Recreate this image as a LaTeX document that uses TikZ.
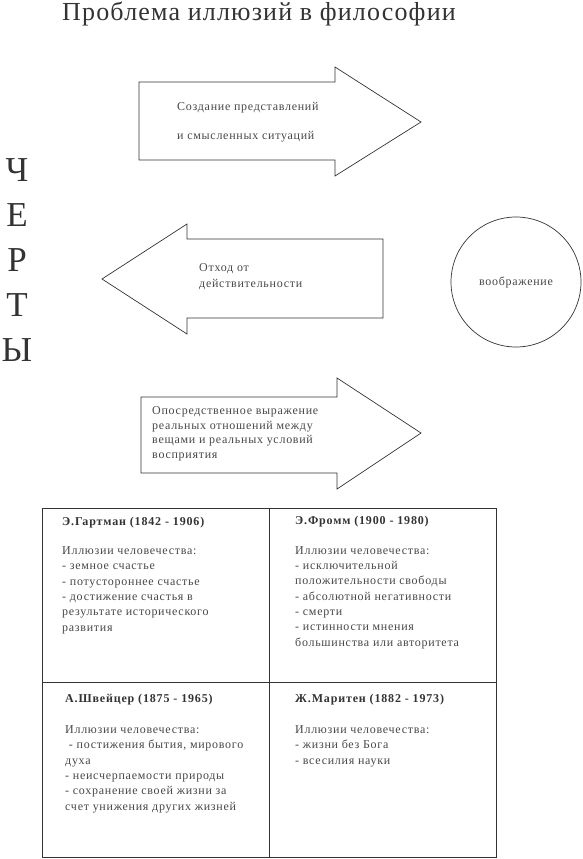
\documentclass[tikz,border=0pt]{standalone}
\usepackage{fontspec}
\setmainfont{Liberation Serif}
\newfontfamily\spacedfont[LetterSpace=6]{Liberation Serif}
\newfontfamily\titlefont[LetterSpace=4.5]{Liberation Serif}
\newfontfamily\headfont[LetterSpace=7]{Liberation Serif}
\usetikzlibrary{positioning}
\definecolor{inkgray}{HTML}{333333}
\definecolor{textgray}{HTML}{474747}
\tikzset{
  arrowshape/.style={draw=inkgray,line width=0.7pt,line join=miter},
  frame/.style={draw=inkgray,line width=0.9pt},
  smalltext/.style={inner sep=0pt,text=textgray,align=left,
    font=\spacedfont\fontsize{12}{15.3}\selectfont},
  headtext/.style={smalltext,text=inkgray,font=\headfont\bfseries\fontsize{12}{15.3}\selectfont},
  bigletter/.style={inner sep=0pt,text=inkgray,font=\fontsize{35}{40}\selectfont}
}

\begin{document}
\begin{tikzpicture}[x=1pt,y=-1pt]
  \useasboundingbox (0,0) rectangle (582,859);

  % title
  \node[inner sep=0pt,text=inkgray,font=\titlefont\fontsize{26}{30}\selectfont,anchor=base] (title) at (259,21) {Проблема иллюзий в философии};

  % vertical word
  \foreach \ch [count=\i] in {Ч,Е,Р,Т,Ы}
    \node[bigletter,anchor=base] (trait\i) at (17,{181+45*(\i-1)}) {\ch};

  % arrows (base anchor of a multi-line node = its last line)
  \draw[arrowshape] (139,82) -- (335,82) -- (335,67) -- (421,122) -- (335,176) -- (335,160) -- (139,160) -- cycle;
  \node[smalltext,anchor=base west] (create1) at (177,110) {Создание представлений};
  \node[smalltext,anchor=base west] (create2) at (177,139) {и смысленных ситуаций};

  \draw[arrowshape] (383,239) -- (187,239) -- (187,224) -- (102,279) -- (187,334) -- (187,318) -- (383,318) -- cycle;
  \node[smalltext,anchor=base west] (escape) at (199,287) {Отход от\\действительности};

  \draw[arrowshape] (141,397) -- (337,397) -- (337,378) -- (421,433) -- (337,489) -- (337,473) -- (141,473) -- cycle;
  \node[smalltext,font=\spacedfont\fontsize{12}{14.4}\selectfont,anchor=base west] (indirect) at (152,458) {Опосредственное выражение\\реальных отношений между\\вещами и реальных условий\\восприятия};

  % circle
  \node[draw=inkgray,line width=0.7pt,circle,minimum size=130pt,smalltext] (imagination) at (516,282) {воображение};

  % table
  \draw[frame] (42,508) rectangle (496,857);
  \draw[frame] (269,508) -- (269,857);
  \draw[frame] (42,682) -- (496,682);

  \node[headtext,anchor=base west] (hartmann) at (62,525) {Э.Гартман (1842 - 1906)};
  \node[smalltext,anchor=base west] (hartmannlist) at (62,631) {Иллюзии человечества:\\- земное счастье\\- потустороннее счастье\\- достижение счастья в\\результате исторического\\развития};

  \node[headtext,anchor=base west] (fromm) at (295,524) {Э.Фромм (1900 - 1980)};
  \node[smalltext,anchor=base west] (frommlist) at (295,646) {Иллюзии человечества:\\- исключительной\\положительности свободы\\- абсолютной негативности\\- смерти\\- истинности мнения\\большинства или авторитета};

  \node[headtext,anchor=base west] (schweitzer) at (65,702) {А.Швейцер (1875 - 1965)};
  \node[smalltext,anchor=base west] (schweitzerlist) at (65,810) {Иллюзии человечества:\\\ - постижения бытия, мирового\\духа\\- неисчерпаемости природы\\- сохранение своей жизни за\\счет унижения других жизней};

  \node[headtext,anchor=base west] (maritain) at (295,702) {Ж.Маритен (1882 - 1973)};
  \node[smalltext,anchor=base west] (maritainlist) at (295,764) {Иллюзии человечества:\\- жизни без Бога\\- всесилия науки};
\end{tikzpicture}
\end{document}
